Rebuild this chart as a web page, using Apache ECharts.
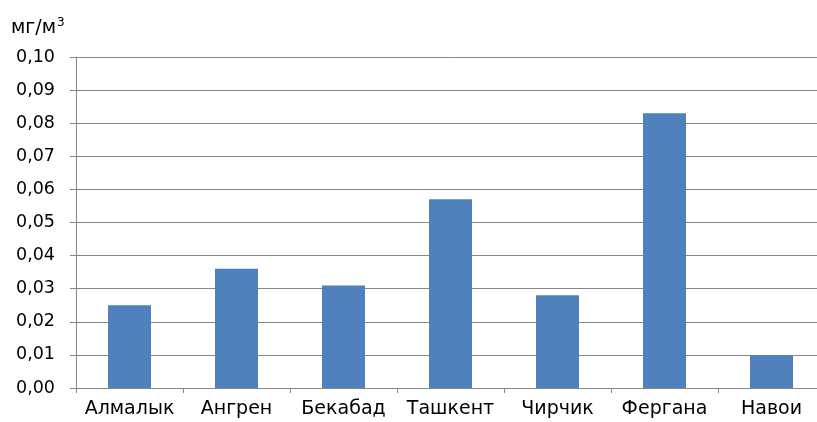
<!DOCTYPE html>
<html><head><meta charset="utf-8">
<script src="https://cdn.jsdelivr.net/npm/echarts@6/dist/echarts.min.js"></script>
<style>html,body{margin:0;padding:0;background:#fff;overflow:hidden}#c{width:825px;height:422px}</style>
</head><body><div id="c"></div>
<script>
const categories = ['Алмалык','Ангрен','Бекабад','Ташкент','Чирчик','Фергана','Навои'];
const values = [0.025, 0.036, 0.031, 0.057, 0.028, 0.083, 0.010];
const unitLabel = 'мг/м';
const FONT = 'DejaVu Sans';
const chart = echarts.init(document.getElementById('c'), null, {renderer:'canvas'});
chart.setOption({
  animation:false,
  backgroundColor:'#fff',
  grid:{left:76, right:0, top:57, bottom:34, containLabel:false},
  graphic:[{type:'text', left:11, top:17, style:{
    text:'{a|'+unitLabel+'}{s|3}', rich:{
      a:{fontFamily:FONT, fontSize:19, fill:'#000', verticalAlign:'bottom'},
      s:{fontFamily:FONT, fontSize:12, fill:'#000', verticalAlign:'top', padding:[0,0,9,1]}
    }}}],
  xAxis:{type:'category', data:categories,
    axisLine:{lineStyle:{color:'#868686', width:1}},
    axisTick:{show:true, alignWithLabel:false, length:5, lineStyle:{color:'#868686'}},
    axisLabel:{color:'#000', fontFamily:FONT, fontSize:19, margin:12, interval:0}
  },
  yAxis:{type:'value', min:0, max:0.1, interval:0.01,
    axisLine:{show:true, lineStyle:{color:'#868686'}},
    axisTick:{show:true, length:6, lineStyle:{color:'#868686'}},
    splitLine:{lineStyle:{color:'#868686', width:1}},
    axisLabel:{color:'#000', fontFamily:FONT, fontSize:17.5, margin:21,
      formatter:v=>v.toFixed(2).replace('.',',')}
  },
  series:[{type:'bar', data:values, barWidth:43, itemStyle:{color:'#4f81bd'}}]
});
</script></body></html>
